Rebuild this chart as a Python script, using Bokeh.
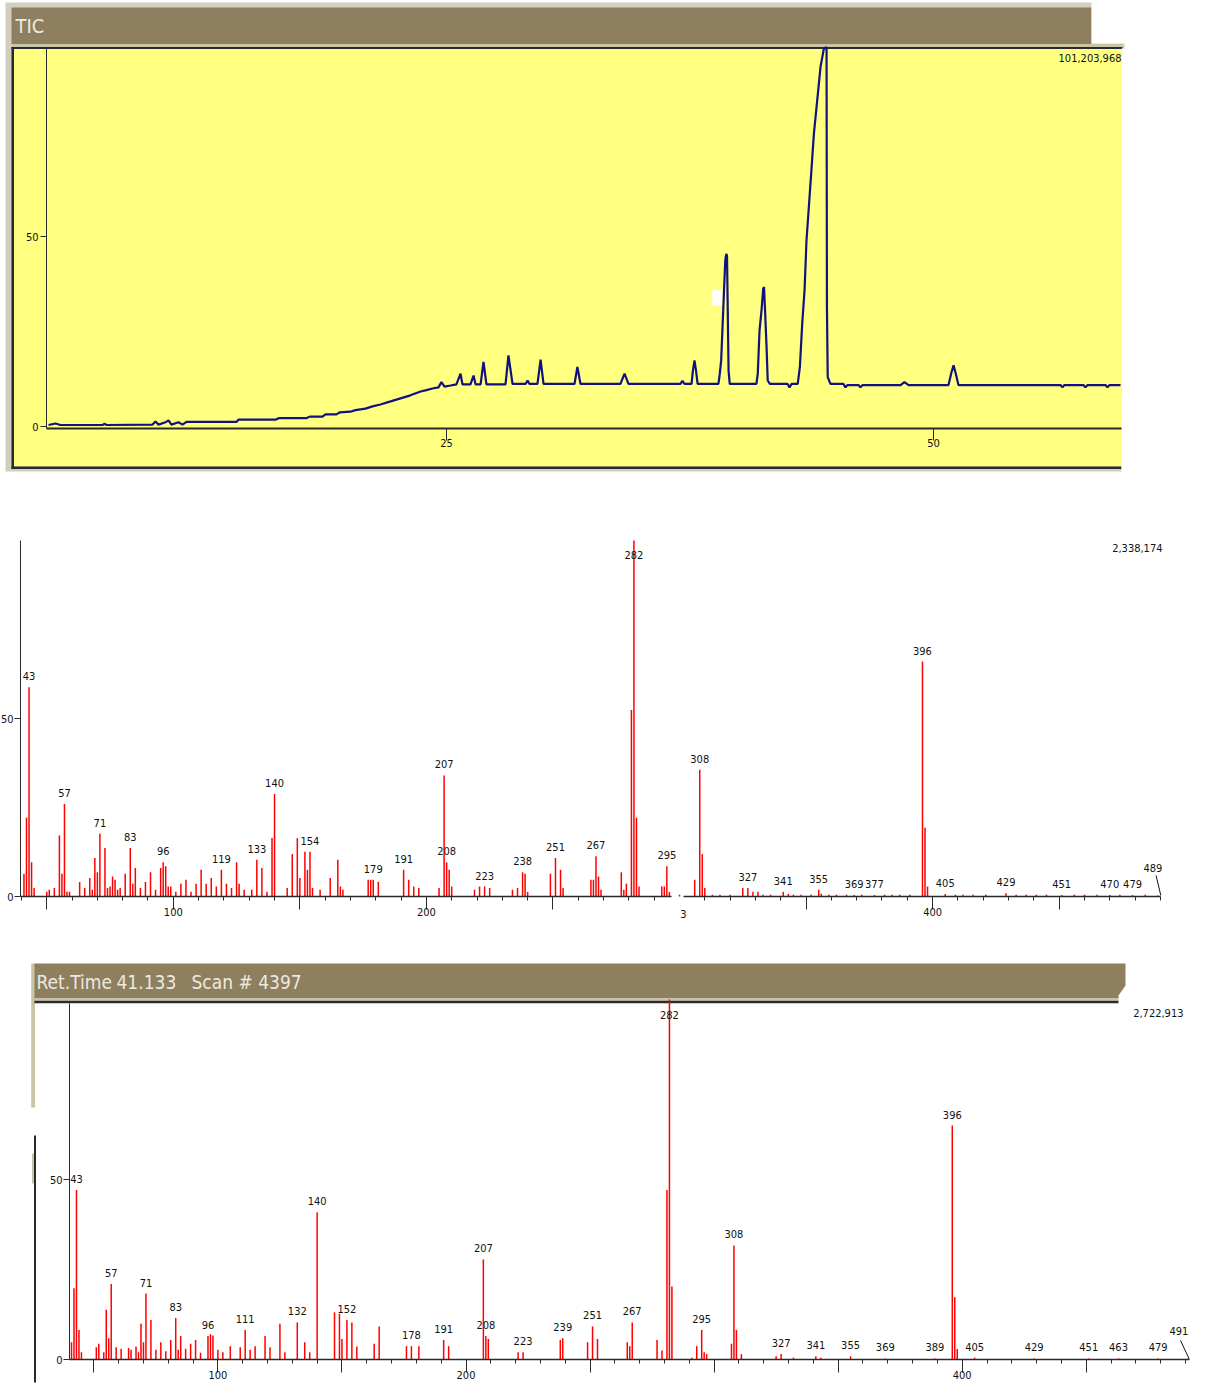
from bokeh.plotting import figure
from bokeh.models import Range1d, LinearAxis, FixedTicker, SingleIntervalTicker
from bokeh.layouts import column
from bokeh.embed import file_html
from bokeh.resources import INLINE
from bokeh.core.properties import value

FONT = "DejaVu Sans Condensed, Liberation Sans, sans-serif"

# ---------------- TIC chromatogram (time in min, relative intensity %) ----------------
tic_time = [4.57, 4.93, 5.18, 7.34, 7.44, 7.55, 9.91, 10.06, 10.22, 10.57, 10.73, 10.88, 11.24, 11.45,
            11.65, 14.22, 14.32, 16.22, 16.38, 17.81, 17.97, 18.63, 18.79, 19.35, 19.51, 20.07, 20.33,
            20.84, 21.20, 21.61, 22.13, 22.64, 23.15, 23.67, 23.92, 24.28, 24.59, 24.74, 24.90, 25.21,
            25.51, 25.72, 25.82, 26.23, 26.39, 26.49, 26.75, 26.90, 27.05, 28.03, 28.18, 28.39, 29.06,
            29.16, 29.26, 29.67, 29.83, 29.98, 31.57, 31.72, 31.88, 33.93, 34.14, 34.34, 37.01, 37.11,
            37.22, 37.58, 37.65, 37.73, 37.81, 37.89, 38.96, 39.03, 39.10, 39.17, 39.24, 39.31, 39.36,
            39.40, 39.44, 39.48, 39.54, 40.91, 40.98, 41.07, 41.17, 41.26, 41.30, 41.36, 41.43, 41.49,
            41.60, 42.51, 42.61, 42.71, 43.03, 43.14, 43.26, 43.38, 43.48, 43.60, 43.72, 43.86, 44.03,
            44.20, 44.37, 44.51, 44.53, 44.57, 44.71, 45.38, 45.48, 45.59, 46.15, 46.25, 46.36, 48.31,
            48.51, 48.72, 50.77, 50.92, 51.03, 51.13, 51.28, 56.52, 56.62, 56.72, 57.70, 57.80, 57.91,
            58.83, 58.93, 59.04, 59.60]
tic_pct = [0.4, 0.8, 0.4, 0.4, 0.7, 0.4, 0.5, 1.3, 0.5, 1.1, 1.6, 0.5, 1.1, 0.5,
           1.2, 1.2, 1.8, 1.8, 2.2, 2.2, 2.6, 2.6, 3.2, 3.2, 3.7, 3.9, 4.3,
           4.7, 5.3, 5.8, 6.6, 7.4, 8.2, 9.2, 9.5, 10.0, 10.3, 11.7, 10.5, 10.8,
           11.1, 13.9, 11.1, 11.1, 13.4, 11.1, 11.1, 17.0, 11.1, 11.1, 18.7, 11.2, 11.2,
           12.1, 11.2, 11.2, 17.6, 11.2, 11.2, 15.7, 11.2, 11.2, 13.9, 11.2, 11.2, 12.0,
           11.2, 11.2, 14.7, 17.4, 14.7, 11.2, 11.2, 13.9, 17.4, 26.1, 35.0, 43.7, 45.4,
           45.0, 29.7, 14.7, 11.2, 11.2, 13.9, 25.3, 30.5, 36.3, 36.7, 29.7, 20.9, 12.1,
           11.2, 11.2, 10.3, 11.2, 11.2, 15.6, 27.0, 35.8, 48.9, 57.7, 66.5, 77.0, 85.8,
           94.6, 99.4, 99.8, 31.4, 13.0, 11.2, 11.2, 10.3, 10.9, 10.9, 10.3, 10.9, 10.9,
           11.7, 10.9, 10.9, 14.2, 16.1, 14.2, 10.9, 10.9, 10.3, 10.9, 10.9, 10.3, 10.9,
           10.9, 10.3, 10.9, 10.9]
tic_max_label = "101,203,968"
tic_ticks = [25, 50]

# ---------------- Spectrum 1 (middle) ----------------
ms1_mz = [41, 42, 43, 44, 45, 50, 51, 53, 55, 56, 57, 58, 59, 63, 65, 67, 68, 69, 70, 71, 73, 74, 75,
          76, 77, 78, 79, 81, 83, 84, 85, 87, 89, 91, 93, 95, 96, 97, 98, 99, 101, 103, 105, 107, 109,
          111, 113, 115, 117, 119, 121, 123, 125, 126, 128, 131, 133, 135, 137, 139, 140, 145, 147, 149,
          150, 152, 153, 154, 155, 158, 162, 165, 166, 167, 177, 178, 179, 181, 191, 193, 195, 197, 205,
          207, 208, 209, 210, 219, 221, 223, 225, 234, 236, 238, 239, 240, 249, 251, 253, 254, 265, 266,
          267, 268, 269, 277, 278, 279, 281, 282, 283, 284, 293, 294, 295, 296, 300, 306, 308, 309, 310,
          313, 316, 320, 325, 327, 329, 331, 333, 336, 341, 343, 345, 348, 352, 355, 356, 359, 362, 366,
          369, 372, 377, 381, 384, 387, 391, 396, 397, 398, 405, 409, 412, 416, 421, 429, 433, 437, 441,
          445, 451, 456, 460, 465, 470, 474, 479, 484, 489]
ms1_int = [6.4, 22.1, 58.8, 9.6, 2.4, 1.3, 1.9, 2.4, 17.1, 6.4, 26.0, 1.3, 1.3, 4.1, 2.4, 5.2, 1.9, 10.8,
           6.8, 17.6, 13.6, 2.4, 2.8, 5.6, 4.7, 1.9, 2.4, 6.4, 13.6, 3.6, 8.0, 2.4, 4.1, 6.8, 1.9, 8.0,
           9.6, 8.5, 2.8, 2.8, 1.3, 3.6, 4.7, 1.3, 3.6, 7.5, 3.6, 5.2, 2.8, 7.5, 3.6, 2.4, 9.6, 3.6, 1.9,
           1.9, 10.3, 8.0, 1.3, 16.4, 28.8, 2.4, 11.9, 16.4, 5.2, 12.6, 7.5, 12.6, 2.4, 1.9, 5.2, 10.3,
           2.8, 1.9, 4.7, 4.7, 4.7, 4.1, 7.5, 4.7, 2.8, 2.4, 2.4, 34.0, 9.6, 7.5, 2.8, 1.9, 2.8, 2.8, 2.4,
           1.9, 2.4, 6.8, 6.4, 1.3, 6.4, 10.8, 7.5, 2.4, 4.7, 4.7, 11.3, 5.6, 1.9, 6.8, 1.9, 3.6, 52.4,
           100.0, 22.1, 2.8, 2.8, 2.8, 8.5, 1.3, 0.5, 4.7, 35.6, 11.9, 2.4, 0.5, 0.5, 0.5, 2.4, 2.4, 1.3,
           1.3, 0.5, 0.5, 1.3, 0.7, 0.5, 0.5, 0.5, 1.9, 0.8, 0.5, 0.5, 0.5, 0.4, 0.5, 0.4, 0.5, 0.5, 0.5,
           0.5, 66.0, 19.3, 2.8, 0.7, 0.5, 0.5, 0.5, 0.5, 0.9, 0.5, 0.5, 0.5, 0.5, 0.4, 0.5, 0.5, 0.5,
           0.4, 0.5, 0.4, 0.5, 0.3]
ms1_labels = [43, 57, 71, 83, 96, 119, 133, 140, 154, 179, 191, 207, 208, 223, 238, 251, 267, 282, 295,
              308, 327, 341, 355, 369, 377, 396, 405, 429, 451, 470, 479, 489]
ms1_max_label = "2,338,174"

# ---------------- Spectrum 2 (bottom) ----------------
ms2_mz = [41, 42, 43, 44, 45, 51, 52, 54, 55, 56, 57, 59, 61, 64, 65, 67, 68, 69, 70, 71, 73, 75, 77, 79,
          81, 83, 84, 85, 87, 89, 91, 93, 96, 97, 98, 100, 102, 105, 109, 111, 113, 115, 119, 121, 125, 127,
          132, 135, 137, 140, 147, 149, 150, 152, 154, 156, 163, 165, 176, 178, 181, 191, 193, 207, 208,
          209, 221, 223, 238, 239, 249, 251, 253, 265, 266, 267, 277, 279, 281, 282, 283, 291, 293, 295,
          296, 297, 307, 308, 309, 311, 325, 327, 332, 341, 343, 355, 369, 389, 396, 397, 398, 405, 429,
          451, 463, 479, 491]
ms2_int = [4.8, 19.8, 47.1, 8.2, 2.0, 3.4, 4.4, 2.0, 13.8, 5.9, 21.0, 3.4, 3.0, 3.2, 2.7, 3.6, 2.0, 9.9,
           4.8, 18.3, 11.0, 2.7, 4.8, 2.3, 5.4, 11.5, 2.7, 6.5, 3.0, 4.4, 5.4, 1.9, 6.5, 7.0, 6.7, 2.7, 2.0,
           3.7, 3.4, 8.2, 2.7, 3.7, 6.5, 3.4, 9.9, 2.0, 10.3, 4.8, 2.0, 40.9, 13.1, 12.7, 5.7, 11.0, 10.3,
           3.6, 4.4, 9.2, 3.7, 3.7, 3.7, 5.4, 3.7, 27.8, 6.5, 5.7, 2.0, 2.0, 5.4, 5.9, 4.8, 9.2, 5.7, 4.8,
           3.7, 10.3, 5.4, 2.5, 47.1, 100.0, 20.3, 0.5, 3.7, 8.2, 2.0, 1.5, 4.4, 31.7, 8.2, 1.5, 0.9, 1.5,
           0.5, 0.9, 0.5, 0.9, 0.3, 0.3, 65.0, 17.3, 2.9, 0.5, 0.3, 0.3, 0.3, 0.3, 0.3]
ms2_labels = [43, 57, 71, 83, 96, 111, 132, 140, 152, 178, 191, 207, 208, 223, 239, 251, 267, 282, 295,
              308, 327, 341, 355, 369, 389, 396, 405, 429, 451, 463, 479, 491]
ms2_max_label = "2,722,913"
ms2_header = ["Ret.Time", "41.133", "Scan # 4397"]

spec_y_ticks = [0, 50]

# ---------------- styling ----------------
W = 1200
BROWN = "#8E7F5F"
LIGHT = "#C9C4A6"
DARK = "#2A2A2A"
YELLOW = "#FFFF80"
GRAYB = "#D2CFC0"
HTEXT = "#ECEAE0"
RED = "#FF0000"
TXT = "#111111"


def make_fig(h, fx, fy, top_img):
    p = figure(width=W, height=h,
               x_range=Range1d(fx(0), fx(W)), y_range=Range1d(fy(top_img + h), fy(top_img)),
               x_axis_type=None, y_axis_type=None, toolbar_location=None,
               output_backend="svg", min_border=0)
    p.outline_line_color = None
    p.background_fill_color = "white"
    p.border_fill_color = "white"
    return p


def box(p, fx, fy, x0, y0, x1, y1, color, level="underlay"):
    p.quad(left=[fx(x0)], right=[fx(x1)], top=[fy(y0)], bottom=[fy(y1)],
           fill_color=color, line_color=None, level=level)


def style_axis(ax, tick_out, standoff):
    ax.axis_line_color = DARK
    ax.major_tick_line_color = DARK
    ax.minor_tick_line_color = DARK
    ax.major_tick_out = tick_out
    ax.major_tick_in = 0
    ax.minor_tick_in = 0
    ax.major_label_text_font = FONT
    ax.major_label_text_font_size = "11px"
    ax.major_label_text_color = TXT
    ax.major_label_standoff = standoff


# ================= Panel 1: TIC =================
def tx(x):
    return 25 + (x - 446) / 19.48


def ty(y):
    return (426 - y) / 3.8


H1 = 476
p1 = make_fig(H1, tx, ty, 0)
box(p1, tx, ty, 5, 2, 1124, 471, GRAYB)
box(p1, tx, ty, 11, 7, 1091, 43.5, BROWN)
box(p1, tx, ty, 1091, 0, 1130, 43, "white")
box(p1, tx, ty, 11, 43.5, 1122, 46.5, LIGHT)
box(p1, tx, ty, 11, 46.5, 1122, 48.5, DARK)
box(p1, tx, ty, 13, 48.5, 1121, 466, YELLOW)
box(p1, tx, ty, 11, 46.5, 13.5, 468.5, DARK)
box(p1, tx, ty, 11, 466, 1121, 468.5, DARK)
box(p1, tx, ty, 1121, 48, 1130, 480, "white")
box(p1, tx, ty, 711.7, 289.3, 721.7, 305, "white", level="glyph")

p1.line(tic_time, tic_pct, line_color="#12127E", line_width=2.2)

p1.text(x=[tx(15)], y=[ty(25)], text=["TIC"], text_font=value(FONT), text_font_size="20px",
        text_color=HTEXT, text_align="left", text_baseline="middle")
p1.text(x=[tx(1121)], y=[ty(57)], text=[tic_max_label], text_font=value(FONT), text_font_size="11px",
        text_color=TXT, text_align="right", text_baseline="middle")

xa1 = LinearAxis(fixed_location=ty(428), bounds=(tx(46), tx(1121)),
                 ticker=FixedTicker(ticks=tic_ticks, minor_ticks=[]))
style_axis(xa1, 12, -2)
xa1.axis_line_width = 2
xa1.minor_tick_out = 0
p1.add_layout(xa1, "below")
ya1 = LinearAxis(fixed_location=tx(46), bounds=(ty(428), ty(47)),
                 ticker=FixedTicker(ticks=[0, 50], minor_ticks=[]))
style_axis(ya1, 6, 2)
ya1.minor_tick_out = 0
p1.add_layout(ya1, "left")


# ================= spectrum helper =================
def draw_spectrum(p, fx, fy, mzs, ints, labels, nudge):
    p.segment(x0=mzs, y0=[0] * len(mzs), x1=mzs, y1=ints, line_color=RED, line_width=1.5)
    lookup = dict(zip(mzs, ints))
    lx, ly, lt, xo, yo = [], [], [], [], []
    for m in labels:
        v = lookup[m]
        dx, dy = nudge.get(m, (0, 0))
        lx.append(m)
        if v > 90:
            ly.append(95.8)
            yo.append(0)
        else:
            ly.append(v)
            yo.append(-11 + dy)
        xo.append(dx)
        lt.append(str(m))
    p.text(x=lx, y=ly, text=lt, x_offset=xo, y_offset=yo, text_font=value(FONT),
           text_font_size="11px", text_color=TXT, text_align="center", text_baseline="alphabetic")


def spec_axes(p, fx, fy, x_segments, y_axis_x, y_top_img):
    for (a, b) in x_segments:
        xa = LinearAxis(fixed_location=0, bounds=(fx(a), fx(b)),
                        ticker=SingleIntervalTicker(interval=50, num_minor_ticks=5),
                        major_label_overrides={50: "", 150: "", 250: "", 350: "", 450: "", 300: ""})
        style_axis(xa, 13, -2)
        xa.axis_line_width = 1.5
        xa.minor_tick_out = 4
        p.add_layout(xa, "below")
    ya = LinearAxis(fixed_location=fx(y_axis_x), bounds=(0, fy(y_top_img)),
                    ticker=FixedTicker(ticks=spec_y_ticks, minor_ticks=[]))
    style_axis(ya, 6, 1)
    ya.minor_tick_out = 0
    p.add_layout(ya, "left")


# ================= Panel 2: middle spectrum =================
def mx(x):
    return 100 + (x - 172.8) / 2.531


def my(y):
    return (896 - y) / 3.56


H2 = 470
p2 = make_fig(H2, mx, my, 476)
spec_axes(p2, mx, my, [(20, 671), (683, 1160)], 20, 540)
draw_spectrum(p2, mx, my, ms1_mz, ms1_int, ms1_labels, {489: (-5, -16)})
p2.segment(x0=[mx(1155.6)], y0=[my(875)], x1=[mx(1160.3)], y1=[my(895)], line_color=TXT, line_width=1)
p2.text(x=[mx(683)], y=[my(913)], text=["3"], text_font=value(FONT), text_font_size="11px",
        text_color=TXT, text_align="center", text_baseline="middle")
p2.text(x=[mx(1162)], y=[my(547)], text=[ms1_max_label], text_font=value(FONT), text_font_size="11px",
        text_color=TXT, text_align="right", text_baseline="middle")


# ================= Panel 3: bottom spectrum =================
def bx(x):
    return 100 + (x - 217.4) / 2.481


def by(y):
    return (1359 - y) / 3.6


H3 = 438
p3 = make_fig(H3, bx, by, 946)
box(p3, bx, by, 30.7, 963, 34.5, 1107, LIGHT)
box(p3, bx, by, 31.5, 1153, 34.5, 1183, LIGHT)
box(p3, bx, by, 33.5, 1135, 35.5, 1382, DARK)
hx = [34, 1125, 1125, 1118, 1118, 34]
hy = [963, 963, 985, 995, 998, 998]
p3.patch([bx(v) for v in hx], [by(v) for v in hy], fill_color=BROWN, line_color=None, level="underlay")
box(p3, bx, by, 34, 998, 1118, 1000.3, LIGHT)
box(p3, bx, by, 34, 1000.3, 1118, 1002.7, DARK)
for txt, xp in zip(ms2_header, [36, 116, 191]):
    p3.text(x=[bx(xp)], y=[by(981)], text=[txt], text_font=value(FONT), text_font_size="19px",
            text_color=HTEXT, text_align="left", text_baseline="middle")

spec_axes(p3, bx, by, [(69, 1189)], 69, 1002.7)
draw_spectrum(p3, bx, by, ms2_mz, ms2_int, ms2_labels, {491: (-9, -16)})
p3.segment(x0=[bx(1180)], y0=[by(1340)], x1=[bx(1188.6)], y1=[by(1358.3)], line_color=TXT, line_width=1)
p3.text(x=[bx(1183)], y=[by(1012)], text=[ms2_max_label], text_font=value(FONT), text_font_size="11px",
        text_color=TXT, text_align="right", text_baseline="middle")

layout = column(p1, p2, p3)
open("out.html", "w").write(file_html(layout, INLINE))
